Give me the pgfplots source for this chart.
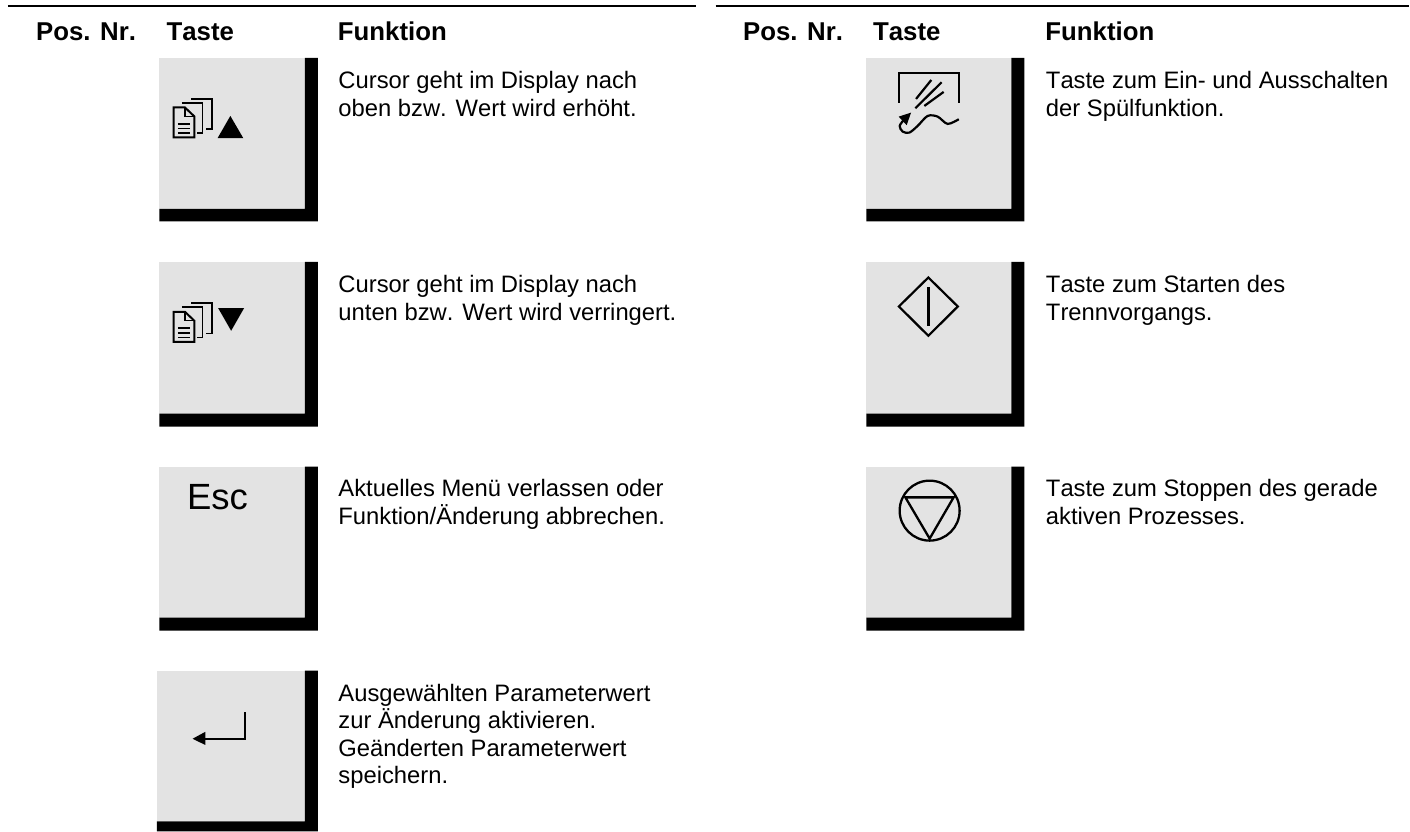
\documentclass[border=0pt]{standalone}
\usepackage{pgfplots}
\pgfplotsset{compat=1.18}
\usepackage{fontspec}
\setmainfont[Kerning=Off]{Liberation Sans}
\definecolor{keygray}{HTML}{E3E3E3}
\newcommand\keybox[6]{%
 \addplot[draw=none,fill=keygray] coordinates {(#1,#4) (#2,#4) (#2,#5) (#1,#5)} --cycle;
 \addplot[draw=none,fill=black] coordinates {(#2,#4) (#3,#4) (#3,#6) (#1,#6) (#1,#5) (#2,#5)} --cycle;
}
\newcommand\body[3]{\node[anchor=base west,inner sep=0pt] at (axis cs:#1,#2) {\fontsize{23.8}{28}\selectfont #3};}
\newcommand\head[2]{\node[anchor=base west,inner sep=0pt] at (axis cs:#1,41) {\fontsize{25.8}{30}\selectfont\bfseries #2};}
\newcommand\pages[1]{%
 \addplot[black,line width=2pt,line join=miter,shift={(axis direction cs:0,#1)}] coordinates {(173.7,107.5) (185,107.5) (194.5,116.5) (194.5,137.5) (173.7,137.5)} --cycle;
 \addplot[black,line width=1.3pt,shift={(axis direction cs:0,#1)}] coordinates {(185,107.5) (185,116.5) (194.5,116.5)};
 \addplot[black,line width=1.6pt,shift={(axis direction cs:0,#1)}] coordinates {(178,124) (190,124)};
 \addplot[black,line width=1.6pt,shift={(axis direction cs:0,#1)}] coordinates {(178,128.7) (190,128.7)};
 \addplot[black,line width=1.6pt,shift={(axis direction cs:0,#1)}] coordinates {(178,133.3) (190,133.3)};
 \addplot[black,line width=1.7pt,shift={(axis direction cs:0,#1)}] coordinates {(182,103) (202.5,103) (202.5,133.3) (197.5,133.3)};
 \addplot[black,line width=1.7pt,shift={(axis direction cs:0,#1)}] coordinates {(191.3,99) (212,99) (212,129.3) (206.5,129.3)};
}
\begin{document}
\begin{tikzpicture}
\begin{axis}[scale only axis,width=1410pt,height=832pt,xmin=0,xmax=1410,ymin=0,ymax=832,
 y dir=reverse,hide axis,clip=false]
% page extent
\addplot[draw=none,fill=white] coordinates {(0,0) (1410,0) (1410,832) (0,832)} --cycle;
% header rules
\addplot[black,line width=2pt] coordinates {(8,6) (696,6)};
\addplot[black,line width=2pt] coordinates {(716,6) (1410,6)};
\head{36}{Pos. Nr.}
\head{166.5}{Taste}
\head{338}{Funktion}
\head{743.5}{Pos. Nr.}
\head{873.5}{Taste}
\head{1046}{Funktion}
% keys
\keybox{159.5}{305}{318}{58}{209}{221.5}
\keybox{159.5}{305}{318}{262}{414}{427}
\keybox{159.5}{305}{318}{467}{618}{631}
\keybox{157}{305}{318}{671}{822}{832}
\keybox{867}{1012}{1025}{58}{209}{221.5}
\keybox{867}{1012}{1025}{262}{414}{427}
\keybox{867}{1012}{1025}{467}{618}{631}
% icon 1
\pages{0}
\addplot[draw=none,fill=black] coordinates {(217.7,138.3) (243.5,138.3) (230.5,116)} --cycle;
% icon 2
\pages{204.5}
\addplot[draw=none,fill=black] coordinates {(218.3,308.3) (244.3,308.3) (231.3,331)} --cycle;
% Esc
\node[anchor=base west,inner sep=0pt] at (axis cs:187,510) {\fontsize{36.5}{40}\selectfont Esc};
% enter
\addplot[black,line width=2pt,line join=miter] coordinates {(245.4,712.7) (245.4,739.3) (204,739.3)};
\addplot[draw=none,fill=black] coordinates {(192.7,739.3) (205.5,732.3) (205.5,745.5)} --cycle;
% rinse
\addplot[black,line width=2pt,line join=miter] coordinates {(899.5,102.7) (899.5,72.7) (960,72.7) (960,102.7)};
\addplot[black,line width=2.2pt] coordinates {(916.7,99) (932,80)};
\addplot[black,line width=2.2pt] coordinates {(916,108.3) (942.3,82.3)};
\addplot[black,line width=2.2pt] coordinates {(925,106) (944.3,92)};
\addplot[black,line width=2.2pt,smooth] coordinates {(905,119.3) (900.3,126) (903.3,131.7) (910,132.7) (918.3,126) (928.3,116) (938.3,116.7) (948.3,124) (959.5,119.3)};
\addplot[draw=none,fill=black] coordinates {(911.7,112.7) (899.3,116.7) (907.3,125.3)} --cycle;
% start
\addplot[black,line width=2.2pt,line join=miter] coordinates {(899.5,306.7) (929,277.7) (958.5,306.7) (929,336)} --cycle;
\addplot[black,line width=2.6pt] coordinates {(929,287.7) (929,326.3)};
% stop
\addplot[black,line width=2.3pt,line join=miter] coordinates {(906,497.7) (954.3,497.7) (930.3,539)} --cycle;
\addplot[only marks,mark=o,mark size=30pt,mark options={black,line width=2.3pt,fill=none}] coordinates {(930.3,511)};
% text
\body{338.5}{88.5}{Cursor geht im Display nach}
\body{338.5}{116.5}{oben bzw. Wert wird erhöht.}
\body{338.5}{292.5}{Cursor geht im Display nach}
\body{338.5}{320.3}{unten bzw. Wert wird verringert.}
\body{338.5}{497}{Aktuelles Menü verlassen oder}
\body{338.5}{525}{Funktion/Änderung abbrechen.}
\body{338.5}{701.5}{Ausgewählten Parameterwert}
\body{338.5}{729}{zur Änderung aktivieren.}
\body{338.5}{756.7}{Geänderten Parameterwert}
\body{338.5}{784.5}{speichern.}
\body{1046.5}{88.5}{Taste zum Ein- und Ausschalten}
\body{1046.5}{116.5}{der Spülfunktion.}
\body{1046.5}{292.5}{Taste zum Starten des}
\body{1046.5}{320.3}{Trennvorgangs.}
\body{1046.5}{497}{Taste zum Stoppen des gerade}
\body{1046.5}{525}{aktiven Prozesses.}
\end{axis}
\end{tikzpicture}
\end{document}
